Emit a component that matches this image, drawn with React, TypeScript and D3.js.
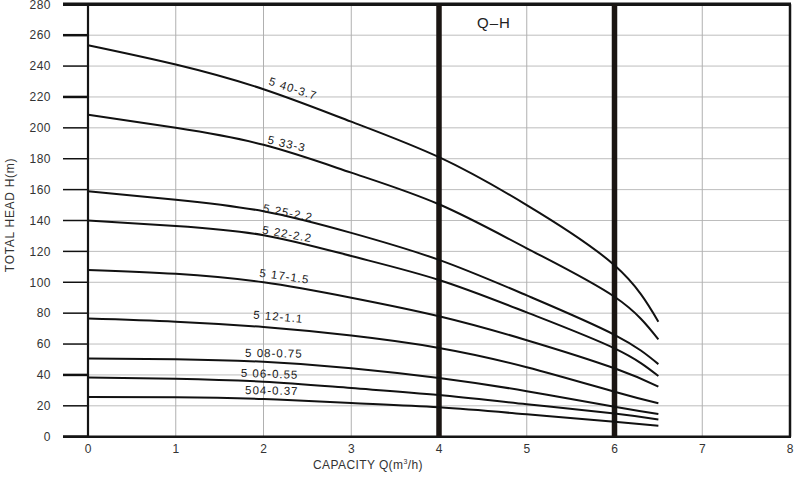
import React from "react";
import * as d3 from "d3";

const capacities = [0, 1, 2, 3, 4, 5, 6, 6.5];
const seriesNames = ["5 40-3.7", "5 33-3", "5 25-2.2", "5 22-2.2", "5 17-1.5", "5 12-1.1", "5 08-0.75", "5 06-0.55", "504-0.37"];
const s40 = [253.5, 241, 225, 204, 181, 150, 111, 74.5];
const s33 = [208.5, 200, 189, 171, 150.5, 122, 90.6, 63];
const s25 = [159, 153.5, 146, 132, 114.5, 91.5, 66, 47];
const s22 = [140, 136.5, 130.5, 117, 101.5, 80.5, 57.2, 39.3];
const s17 = [108, 105.5, 100, 90, 78, 62.5, 44.3, 32.4];
const s12 = [76.5, 74.5, 71, 65.5, 57.5, 45, 29.1, 21.6];
const s08 = [50.7, 50.2, 48.5, 44.4, 38, 29.5, 19.4, 14.7];
const s06 = [38.4, 37.6, 35.6, 31.5, 27, 21, 15.1, 11.2];
const s04 = [25.7, 25.6, 24.4, 21.8, 19, 14.5, 9.7, 7.1];
const seriesValues = [s40, s33, s25, s22, s17, s12, s08, s06, s04];
// label anchor (capacity, head) and rotation
const labelQ = [2.05, 2.04, 1.99, 1.98, 1.95, 1.88, 1.79, 1.74, 1.79];
const labelH = [228, 190, 145.6, 131.6, 103.6, 76.6, 51.8, 38.8, 27.6];
const labelAngle = [18, 13, 11, 10, 8, 5, 1, 2, 1];

const xTicks = [0, 1, 2, 3, 4, 5, 6, 7, 8];
const yTicks = [0, 20, 40, 60, 80, 100, 120, 140, 160, 180, 200, 220, 240, 260, 280];
const markers = [4, 6];
const thickYTicks = [0, 40, 220, 260, 280];

const FONT = "'Liberation Sans', Arial, sans-serif";

export default function App() {
  const x = d3.scaleLinear().domain([0, 8]).range([88, 790]);
  const y = d3.scaleLinear().domain([0, 280]).range([436.7, 4.3]);
  const line = d3
    .line<number>()
    .x((_, i) => x(capacities[i]))
    .y((d) => y(d))
    .curve(d3.curveNatural);

  return (
    <svg
      width={800}
      height={492}
      style={{ position: "absolute", left: 0, top: 0, background: "#fff" }}
      fontFamily={FONT}
    >
      {/* gridlines */}
      {yTicks.slice(1, -1).map((t) => (
        <line key={"gy" + t} x1={x(0)} x2={x(8)} y1={y(t)} y2={y(t)} stroke="#bdbdbd" strokeWidth={1} />
      ))}
      {xTicks.slice(1, -1).map((t) => (
        <line key={"gx" + t} x1={x(t)} x2={x(t)} y1={y(0)} y2={y(280)} stroke="#b0b0b0" strokeWidth={1} />
      ))}
      {/* y ticks */}
      {yTicks.map((t) => (
        <line
          key={"ty" + t}
          x1={63}
          x2={x(0)}
          y1={y(t)}
          y2={y(t)}
          stroke="#111"
          strokeWidth={thickYTicks.includes(t) ? 2.5 : 1.5}
        />
      ))}
      {/* frame */}
      <line x1={63} x2={x(8) + 1} y1={y(280)} y2={y(280)} stroke="#151515" strokeWidth={3.5} />
      <line x1={63} x2={x(8) + 1} y1={y(0)} y2={y(0)} stroke="#151515" strokeWidth={2.5} />
      <line x1={x(0)} x2={x(0)} y1={y(280)} y2={y(0)} stroke="#151515" strokeWidth={2.2} />
      <line x1={x(8)} x2={x(8)} y1={y(280)} y2={y(0)} stroke="#151515" strokeWidth={2.5} />
      {/* markers */}
      {markers.map((m) => (
        <line key={"m" + m} x1={x(m)} x2={x(m)} y1={y(280)} y2={y(0)} stroke="#1a1512" strokeWidth={5.5} />
      ))}
      {/* curves */}
      {seriesValues.map((vals, i) => (
        <path key={"c" + i} d={line(vals) || ""} fill="none" stroke="#111" strokeWidth={2} />
      ))}
      {/* curve labels */}
      {seriesNames.map((n, i) => (
        <text
          key={"l" + i}
          transform={`translate(${x(labelQ[i])},${y(labelH[i])}) rotate(${labelAngle[i]})`}
          fontSize={11.5}
          letterSpacing={1}
          fill="#1a1a1a"
        >
          {n}
        </text>
      ))}
      {/* tick labels */}
      {yTicks.map((t) => (
        <text key={"yl" + t} x={51} y={y(t) + 4.3} textAnchor="end" fontSize={12} letterSpacing={0.5} fill="#333">
          {t}
        </text>
      ))}
      {xTicks.map((t) => (
        <text key={"xl" + t} x={x(t)} y={453} textAnchor="middle" fontSize={12} fill="#333">
          {t}
        </text>
      ))}
      {/* titles */}
      <text x={368} y={469} textAnchor="middle" fontSize={12} letterSpacing={0.4} fill="#333">
        CAPACITY Q(m
        <tspan fontSize={7} dy={-5}>3</tspan>
        <tspan dy={5}>/h)</tspan>
      </text>
      <text
        transform="translate(14,215) rotate(-90)"
        textAnchor="middle"
        fontSize={12}
        letterSpacing={0.7}
        fill="#333"
      >
        TOTAL HEAD H(m)
      </text>
      <text x={494} y={28} textAnchor="middle" fontSize={15} letterSpacing={1} fill="#222">
        Q–H
      </text>
    </svg>
  );
}
